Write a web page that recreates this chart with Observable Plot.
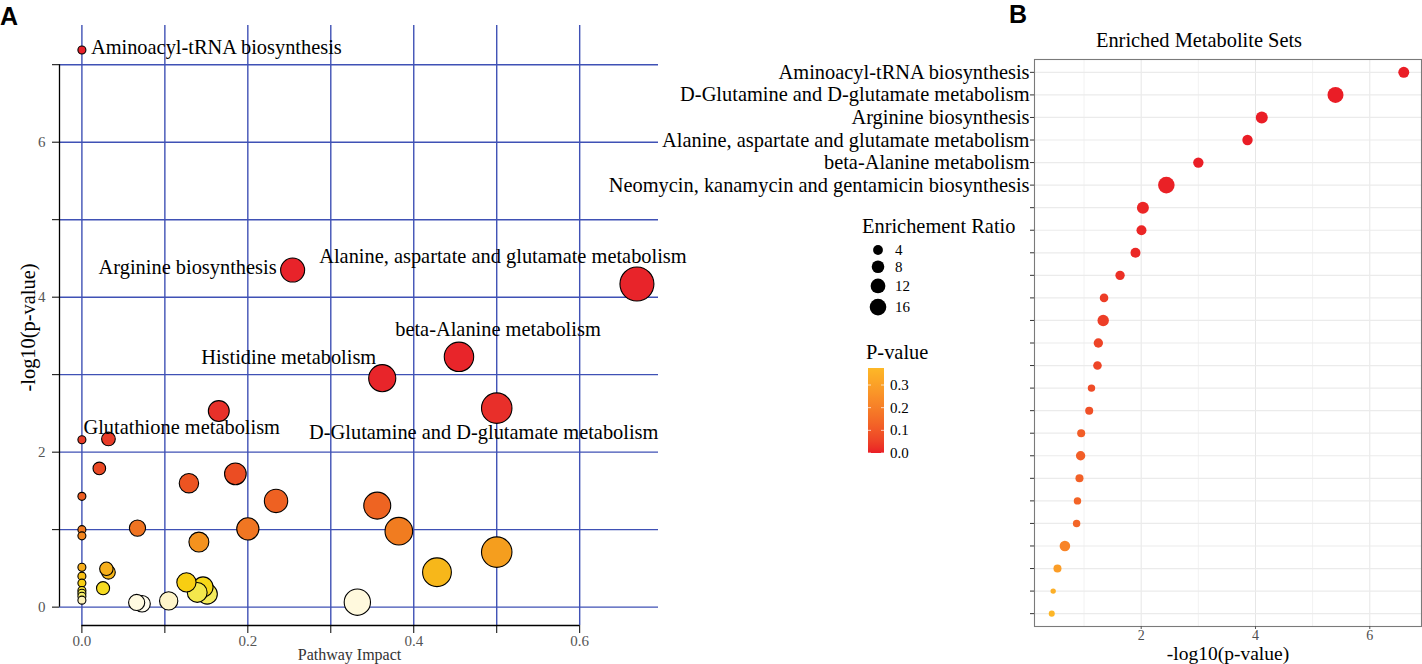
<!DOCTYPE html>
<html><head><meta charset="utf-8">
<script src="https://cdn.jsdelivr.net/npm/d3@7"></script>
<script src="https://cdn.jsdelivr.net/npm/@observablehq/plot@0.6"></script>
<style>
html,body{margin:0;padding:0;background:#fff;}
#wrap{position:relative;width:1422px;height:664px;overflow:hidden;background:#fff;}
#A{position:absolute;left:0;top:0;width:670px;height:664px;}
#B{position:absolute;left:570px;top:0;width:852px;height:664px;}
#over{position:absolute;left:0;top:0;}
</style></head><body>
<div id="wrap"><div id="A"></div><div id="B"></div><svg id="over" width="1422" height="664"></svg></div>
<script>
// ---------------- DATA ----------------
// Panel A: pathway impact vs -log10(p)
const aImpact = [0, 0.254, 0.669, 0.4545, 0.362, 0.5, 0.165, 0, 0.032, 0.021, 0.185, 0.129, 0, 0.234, 0.356, 0.067, 0.2, 0, 0.382, 0, 0.141, 0.5, 0, 0.0295, 0.032, 0.428, 0, 0.126, 0, 0.146, 0.0255, 0, 0.139, 0, 0.151, 0, 0, 0.1046, 0.066, 0.332, 0.0725];
const aLogP = [7.19, 4.35, 4.17, 3.23, 2.955, 2.568, 2.53, 2.16, 2.17, 1.79, 1.72, 1.60, 1.43, 1.37, 1.31, 1.02, 1.01, 1.00, 0.98, 0.92, 0.84, 0.71, 0.515, 0.495, 0.45, 0.45, 0.40, 0.32, 0.31, 0.26, 0.245, 0.215, 0.19, 0.18, 0.17, 0.14, 0.09, 0.08, 0.06, 0.064, 0.044];
const aLabel = ["Aminoacyl-tRNA biosynthesis", "Arginine biosynthesis", "Alanine, aspartate and glutamate metabolism", "beta-Alanine metabolism", "Histidine metabolism", "D-Glutamine and D-glutamate metabolism", "", "", "Glutathione metabolism"];
const aXTicks = [0, 0.1, 0.2, 0.3, 0.4, 0.5, 0.6];
const aYTicks = [0, 1, 2, 3, 4, 5, 6, 7];

// Panel B: enriched metabolite sets
const bLabels = ["Aminoacyl-tRNA biosynthesis", "D-Glutamine and D-glutamate metabolism", "Arginine biosynthesis", "Alanine, aspartate and glutamate metabolism", "beta-Alanine metabolism", "Neomycin, kanamycin and gentamicin biosynthesis"];
const bLogP = [6.595, 5.40, 4.11, 3.86, 3.00, 2.44, 2.03, 2.005, 1.90, 1.63, 1.35, 1.335, 1.25, 1.235, 1.13, 1.09, 0.95, 0.94, 0.92, 0.885, 0.87, 0.665, 0.535, 0.46, 0.435];
const bRatio = [5.5, 14.6, 7.0, 4.7, 4.7, 16, 7.0, 4.2, 4.2, 3.5, 2.7, 6.1, 3.5, 2.7, 1.7, 2.2, 2.2, 3.5, 2.2, 1.7, 1.7, 5.0, 2.2, 0.5, 0.8];
const bXTicks = [2, 4, 6];
const bXMinor = [1, 3, 5];
const legendRatio = [4, 8, 12, 16];
const legendP = [0.0, 0.1, 0.2, 0.3];

// ---------------- STYLE ----------------
const SERIF = '"Liberation Serif","Times New Roman",serif';
const BLUE = "#3F51B5";
const aRows = aImpact.map((v, i) => ({impact: v, logp: aLogP[i], name: aLabel[i] || ""}));
const bRows = bLogP.map((v, i) => ({i, logp: v, ratio: bRatio[i]}));

const labelStyle = {
  "Aminoacyl-tRNA biosynthesis": {textAnchor: "start", dx: 9, dy: -3},
  "Arginine biosynthesis": {textAnchor: "end", dx: -16, dy: -2.5},
  "Alanine, aspartate and glutamate metabolism": {textAnchor: "middle", dx: -134, dy: -28},
  "beta-Alanine metabolism": {textAnchor: "middle", dx: 39, dy: -27.5},
  "Histidine metabolism": {textAnchor: "end", dx: -6, dy: -20.5},
  "D-Glutamine and D-glutamate metabolism": {textAnchor: "middle", dx: -13, dy: 24},
  "Glutathione metabolism": {textAnchor: "start", dx: -25, dy: -11.5}
};

const aXDomain = [-0.027, 0.695];
const aYDomain = [-0.237, 7.506];

const plotA = Plot.plot({
  width: 670, height: 664,
  marginLeft: 59, marginRight: 12, marginTop: 25, marginBottom: 39,
  style: {fontFamily: SERIF, background: "transparent", overflow: "visible"},
  x: {domain: aXDomain},
  y: {domain: aYDomain},
  r: {type: "sqrt", domain: [0, 0.67], range: [4, 17]},
  color: {
    type: "linear", clamp: true,
    domain: [0.04, 0.065, 0.085, 0.14, 0.18, 0.22, 0.26, 0.32, 0.42, 0.5, 0.71, 0.84, 0.95, 1.02, 1.35, 1.6, 1.8, 2.17, 2.55, 2.9, 7.2],
    range: ["#FFFDF2", "#FFF9DC", "#FFF3C2", "#F6EE70", "#F3EA55", "#F5E030", "#F7D818", "#F8CE12", "#F8BC18", "#F6AE1C", "#F59E1E", "#F4921E", "#F2821F", "#F07422", "#EE6222", "#EC5422", "#EA4824", "#E83C28", "#E8302A", "#E8252A", "#E8202A"]
  },
  marks: [
    Plot.gridX(aXTicks, {stroke: BLUE, strokeOpacity: 1, strokeWidth: 1.4}),
    Plot.gridY(aYTicks, {stroke: BLUE, strokeOpacity: 1, strokeWidth: 1.4}),
    Plot.ruleX([aXDomain[0]], {y1: aYTicks[0], y2: aYTicks[aYTicks.length - 1], stroke: "#000", strokeWidth: 1.3}),
    Plot.ruleY([aYDomain[0]], {x1: aXTicks[0], x2: aXTicks[aXTicks.length - 1], stroke: "#000", strokeWidth: 1.3}),
    Plot.axisY(aYTicks, {tickSize: 7, tickPadding: 7, fontSize: 15, stroke: "#000", fill: "#555", label: null,
      tickFormat: d => d % 2 === 0 ? String(d) : ""}),
    Plot.axisX(aXTicks, {tickSize: 8, tickPadding: 2, fontSize: 15, stroke: "#000", fill: "#555", label: null,
      tickFormat: d => Math.round(d * 10) % 2 === 0 ? d3.format(".1f")(d) : ""}),
    Plot.dot(aRows, {x: "impact", y: "logp", r: "impact", fill: "logp", stroke: "#000", strokeWidth: 1.1}),
    ...Object.keys(labelStyle).map(name =>
      Plot.text(aRows.filter(d => d.name === name), {x: "impact", y: "logp", text: "name", fontSize: 20.4, fill: "#000", lineAnchor: "middle", ...labelStyle[name]})),
    Plot.text(["-log10(p-value)"], {frameAnchor: "left", textAnchor: "middle", lineAnchor: "middle", rotate: -90, dx: -31, dy: 2, fontSize: 20.4, fill: "#000"}),
    Plot.text(["Pathway Impact"], {frameAnchor: "bottom", textAnchor: "middle", lineAnchor: "middle", dx: -9.5, dy: 29.5, fontSize: 16, fill: "#333"})
  ]
});
document.getElementById("A").appendChild(plotA);

const rB = {type: "sqrt", domain: [0, 16], range: [1.5, 8.3]};
const cB = {type: "linear", domain: [0, 0.375], range: ["#EA1D26", "#FDB827"], interpolate: "lab"};

const plotB = Plot.plot({
  width: 852, height: 664,
  marginLeft: 464, marginRight: 1, marginTop: 59, marginBottom: 38,
  style: {fontFamily: SERIF, background: "transparent", overflow: "visible"},
  x: {domain: [0.133, 6.905]},
  y: {type: "point", domain: d3.range(bLogP.length), padding: 0.57, round: false},
  r: rB,
  color: cB,
  marks: [
    Plot.gridX(bXMinor, {stroke: "#F2F2F2", strokeOpacity: 1, strokeWidth: 1}),
    Plot.gridX(bXTicks, {stroke: "#E6E6E6", strokeOpacity: 1, strokeWidth: 1}),
    Plot.gridY({stroke: "#EBEBEB", strokeOpacity: 1, strokeWidth: 1.2}),
    Plot.frame({stroke: "#7A7A7A", strokeWidth: 1.1}),
    Plot.axisY({tickSize: 4, tickPadding: 1, fontSize: 20.4, stroke: "#333", fill: "#000", label: null,
      tickFormat: i => bLabels[i] || ""}),
    Plot.axisX(bXTicks, {tickSize: 3, tickPadding: 0.5, fontSize: 14, stroke: "#555", fill: "#4D4D4D", label: null}),
    Plot.dot(bRows, {x: "logp", y: "i", r: "ratio", fill: d => Math.pow(10, -d.logp)}),
    Plot.text(["Enriched Metabolite Sets"], {frameAnchor: "top", textAnchor: "middle", lineAnchor: "middle", dx: -29, dy: -18.7, fontSize: 20.4, fill: "#000"}),
    Plot.text(["-log10(p-value)"], {frameAnchor: "bottom", textAnchor: "middle", lineAnchor: "middle", dy: 27.5, fontSize: 19.5, fill: "#000"})
  ]
});
document.getElementById("B").appendChild(plotB);

// ---------------- LEGEND + PANEL LETTERS ----------------
const rScale = Plot.scale({r: rB});
const cScale = Plot.scale({color: cB});
const over = d3.select("#over");
over.append("text").attr("x", 0).attr("y", 25).attr("font-family", '"Liberation Sans",Arial,sans-serif')
  .attr("font-weight", "bold").attr("font-size", 25).text("A");
over.append("text").attr("x", 1009).attr("y", 23).attr("font-family", '"Liberation Sans",Arial,sans-serif')
  .attr("font-weight", "bold").attr("font-size", 25).text("B");

const lg = over.append("g").attr("font-family", SERIF);
lg.append("text").attr("x", 862).attr("y", 233).attr("font-size", 20.4).text("Enrichement Ratio");
let yk = 250, prevR = null;
legendRatio.forEach(v => {
  const r = rScale.apply(v);
  if (prevR !== null) yk += prevR + r + 5.5;
  lg.append("circle").attr("cx", 878).attr("cy", yk).attr("r", r).attr("fill", "#000");
  lg.append("text").attr("x", 895).attr("y", yk + 5).attr("font-size", 15).text(String(v));
  prevR = r;
});

lg.append("text").attr("x", 866).attr("y", 359).attr("font-size", 20.4).text("P-value");
const pMax = cB.domain[1];
const barY = d3.scaleLinear().domain([0, pMax]).range([453, 368]);
const grad = over.append("defs").append("linearGradient").attr("id", "pgrad")
  .attr("x1", 0).attr("y1", 1).attr("x2", 0).attr("y2", 0);
d3.range(0, 1.0001, 0.05).forEach(t => {
  grad.append("stop").attr("offset", t).attr("stop-color", cScale.apply(t * pMax));
});
lg.append("rect").attr("x", 868).attr("y", barY(pMax)).attr("width", 16).attr("height", barY(0) - barY(pMax)).attr("fill", "url(#pgrad)");
legendP.forEach(p => {
  const y = barY(p);
  lg.append("line").attr("x1", 868).attr("x2", 871).attr("y1", y).attr("y2", y).attr("stroke", "#fff").attr("stroke-opacity", 0.7);
  lg.append("line").attr("x1", 881).attr("x2", 884).attr("y1", y).attr("y2", y).attr("stroke", "#fff").attr("stroke-opacity", 0.7);
  lg.append("text").attr("x", 890).attr("y", y + 5).attr("font-size", 15).text(d3.format(".1f")(p));
});
</script></body></html>
